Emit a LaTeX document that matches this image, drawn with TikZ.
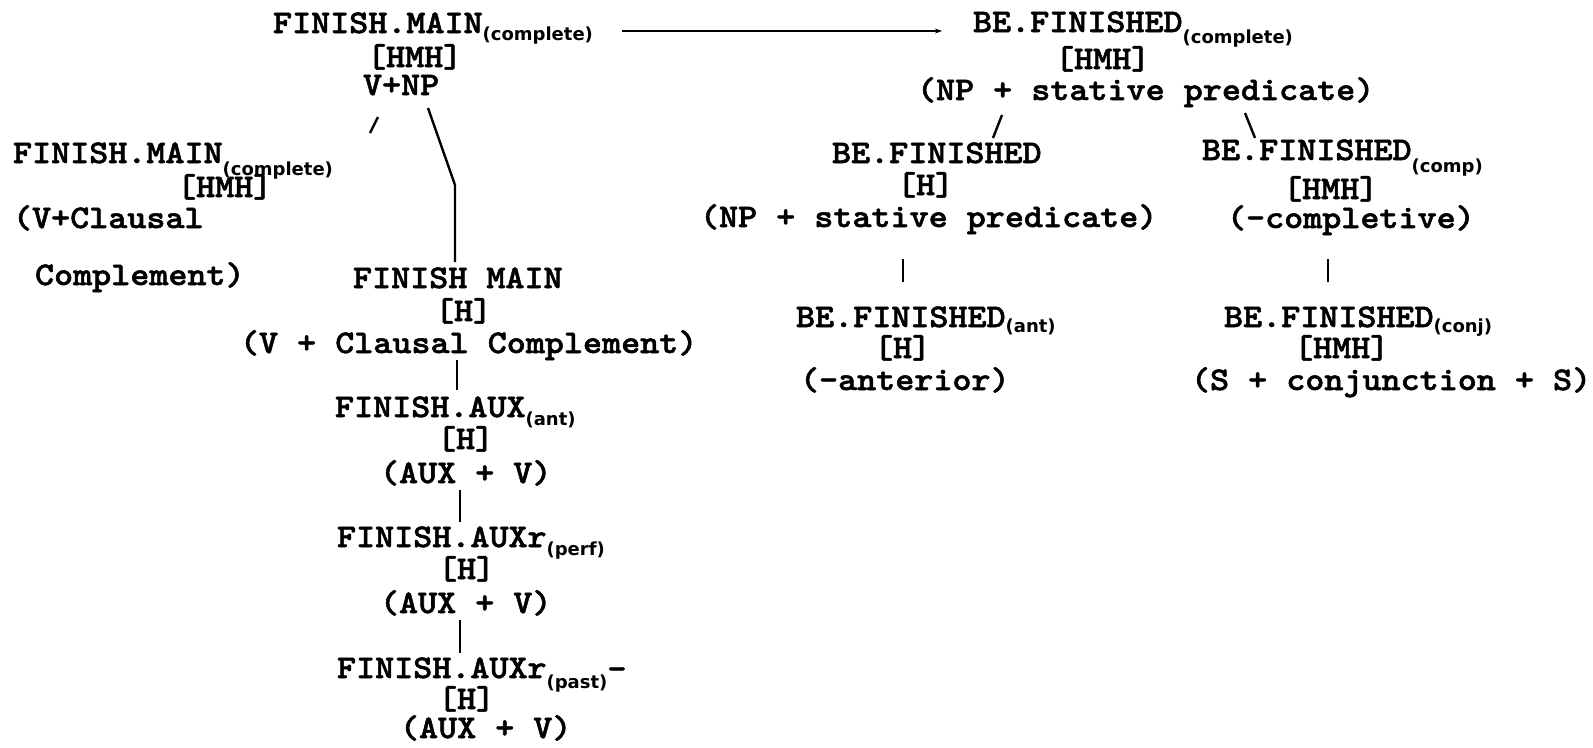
\documentclass[tikz,border=0pt]{standalone}
\usepackage{fontspec}
\newfontfamily\typed{lmmonolt10-bold.otf}[FakeStretch=1.1, FakeBold=1.6]
\newfontfamily\subfont{DejaVu Sans}
\usetikzlibrary{arrows.meta}
\newcommand\treefont{\typed\fontsize{33}{33}\selectfont\lineskiplimit=-100pt}
\newcommand\topstrut{\rule{0pt}{24pt}}
\newcommand\lowsub[2][9]{\raisebox{-#1pt}{\subfont\bfseries\fontsize{18}{18}\selectfont #2}}
\tikzset{
	x=1pt, y=-1pt, % one unit per pixel of the scan, y runs down
	>={Stealth[length=7pt,width=5pt]}, % small arrow head
	tree node/.style={inner sep=0pt, outer sep=0pt, anchor=north west, align=left, font=\treefont}, % typed block of lines
	branch/.style={line width=2.4pt}, % the typed tree lines
}
\begin{document}
\begin{tikzpicture}
	\useasboundingbox (0,0) rectangle (1593,747);
	% FINISH side
	\node[tree node] (fmainc) at (273,9) {\topstrut FINISH.MAIN\lowsub[7]{(complete)}\\[1pt]%
		\hspace*{94pt}[HMH]\\[-5pt]%
		\hspace*{90pt}V+NP};
	\node[tree node] (fmaincl) at (13,139) {\topstrut FINISH.MAIN\lowsub[12]{(complete)}\\[1pt]%
		\hspace*{164pt}[HMH]\\[-2pt]%
		(V+Clausal\\[24pt]%
		\hspace*{22pt}Complement)};
	\node[tree node] (fmainh) at (240,264) {\topstrut\hspace*{113pt}FINISH MAIN\\%
		\hspace*{195pt}[H]\\[-1pt]%
		(V + Clausal Complement)};
	\node[tree node] (fauxant) at (335,393) {\topstrut FINISH.AUX\lowsub[8]{(ant)}\\[-1pt]%
		\hspace*{102pt}[H]\\[1pt]%
		\hspace*{45pt}(AUX + V)};
	\node[tree node] (fauxperf) at (337,523) {\topstrut FINISH.AUXr\lowsub[8]{(perf)}\\[-1pt]%
		\hspace*{101pt}[H]\\[1pt]%
		\hspace*{43pt}(AUX + V)};
	\node[tree node] (fauxpast) at (337,654) {\topstrut FINISH.AUXr\lowsub[10]{(past)}\raisebox{-1pt}{-}\\[-2pt]%
		\hspace*{101pt}[H]\\[-4pt]%
		\hspace*{63pt}(AUX + V)};
	% BE.FINISHED side
	\node[tree node] (befin) at (917,8) {\topstrut\hspace*{56pt}BE.FINISHED\lowsub[11]{(complete)}\\[4pt]%
		\hspace*{138pt}[HMH]\\[-2pt]%
		(NP + stative predicate)};
	\node[tree node] (befinh) at (700,139) {\topstrut\hspace*{132pt}BE.FINISHED\\[-1pt]%
		\hspace*{197pt}[H]\\[-1pt]%
		(NP + stative predicate)};
	\node[tree node] (befincomp) at (1202,136) {\topstrut BE.FINISHED\lowsub[12]{(comp)}\\[6pt]%
		\hspace*{81pt}[HMH]\\[-4pt]%
		\hspace*{25pt}(-completive)};
	\node[tree node] (befinant) at (796,303) {\topstrut BE.FINISHED\lowsub[5]{(ant)}\\[-2pt]%
		\hspace*{78pt}[H]\\[-1pt]%
		\hspace*{4pt}(-anterior)};
	\node[tree node] (befinconj) at (1191,303) {\topstrut\hspace*{33pt}BE.FINISHED\lowsub[5]{(conj)}\\[-2pt]%
		\hspace*{103pt}[HMH]\\[-1pt]%
		(S + conjunction + S)};
	% lines
	\draw[->, line width=1.8pt] ([shift={(29,22)}]fmainc.north east) -- ([shift={(25,23)}]befin.north west);
	\draw[branch] ([shift={(105,108)}]fmainc.north west) -- ([shift={(97,124)}]fmainc.north west);
	\draw[branch] ([shift={(155,99)}]fmainc.north west) -- ++(27,77) -- ([shift={(215,-2)}]fmainh.north west);
	\draw[branch] ([shift={(217,96)}]fmainh.north west) -- ([shift={(122,-3)}]fauxant.north west);
	\draw[branch] ([shift={(125,97)}]fauxant.north west) -- ([shift={(123,-1)}]fauxperf.north west);
	\draw[branch] ([shift={(123,97)}]fauxperf.north west) -- ([shift={(123,-1)}]fauxpast.north west);
	\draw[branch] ([shift={(85,107)}]befin.north west) -- ([shift={(293,-1)}]befinh.north west);
	\draw[branch] ([shift={(328,105)}]befin.north west) -- ([shift={(53,2)}]befincomp.north west);
	\draw[branch] ([shift={(203,120)}]befinh.north west) -- ([shift={(107,-21)}]befinant.north west);
	\draw[branch] ([shift={(126,123)}]befincomp.north west) -- ([shift={(137,-21)}]befinconj.north west);
\end{tikzpicture}
\end{document}
